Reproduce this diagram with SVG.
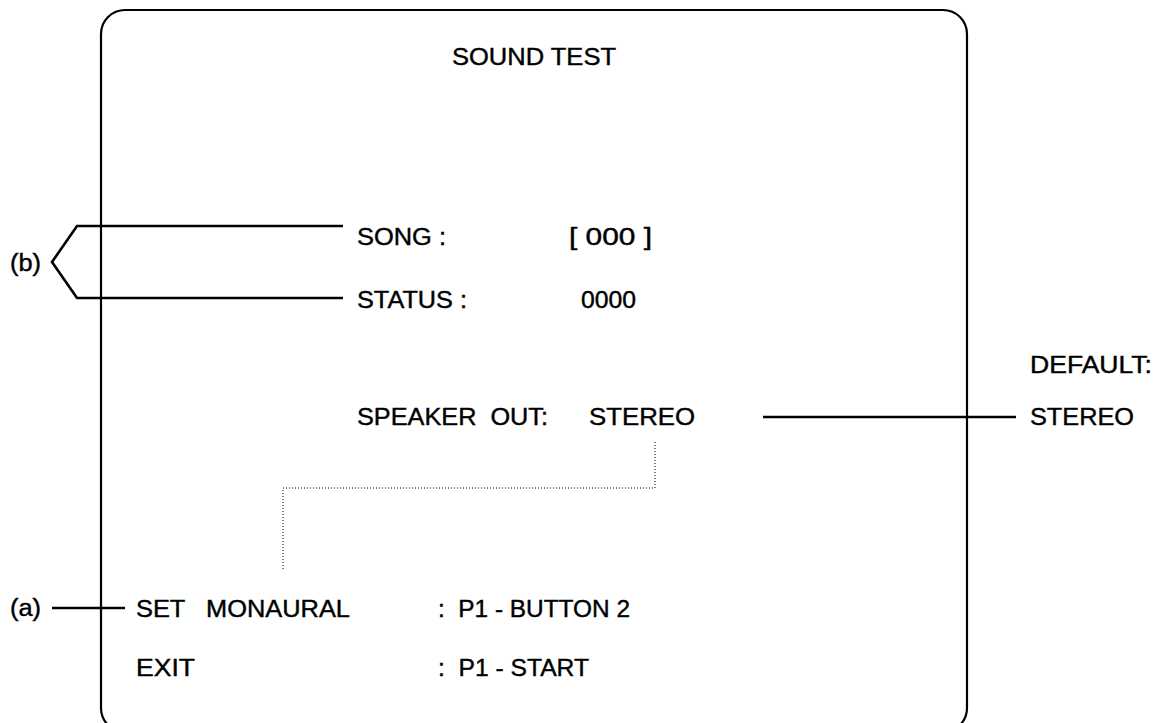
<svg xmlns="http://www.w3.org/2000/svg" width="1156" height="723" viewBox="0 0 1156 723">
<style>
text{font-family:"Liberation Sans",Arial,sans-serif;font-size:23px;fill:#000;stroke:#000;stroke-width:0.4;white-space:pre}
.ln{fill:none;stroke:#000;stroke-width:2.6}
.dot{fill:none;stroke:#000;stroke-width:1;stroke-dasharray:1 2}
</style>
<rect width="1156" height="723" fill="#fff"/>
<g id="screen">
<rect x="101" y="10" width="866" height="722" rx="24" ry="24" fill="none" stroke="#000" stroke-width="2.2"/>
<text x="452" y="65" textLength="164" lengthAdjust="spacingAndGlyphs">SOUND TEST</text>
</g>
<g id="song">
<text x="357" y="245" textLength="89" lengthAdjust="spacingAndGlyphs">SONG :</text>
<text x="569" y="245" textLength="83" lengthAdjust="spacingAndGlyphs">[ 000 ]</text>
</g>
<g id="status">
<text x="357" y="308" textLength="110" lengthAdjust="spacingAndGlyphs">STATUS :</text>
<text x="581" y="308" textLength="55" lengthAdjust="spacingAndGlyphs">0000</text>
</g>
<g id="speaker">
<text x="357" y="425" textLength="191" lengthAdjust="spacingAndGlyphs">SPEAKER  OUT:</text>
<text x="589" y="425" textLength="106" lengthAdjust="spacingAndGlyphs">STEREO</text>
</g>
<g id="default">
<text x="1030" y="373" textLength="122" lengthAdjust="spacingAndGlyphs">DEFAULT:</text>
<text x="1030" y="425" textLength="104" lengthAdjust="spacingAndGlyphs">STEREO</text>
</g>
<g id="label-b"><text x="10" y="271" textLength="31" lengthAdjust="spacingAndGlyphs">(b)</text></g>
<g id="label-a"><text x="10" y="616" textLength="31" lengthAdjust="spacingAndGlyphs">(a)</text></g>
<g id="monaural">
<text x="136" y="617" textLength="214" lengthAdjust="spacingAndGlyphs">SET   MONAURAL</text>
<text x="438" y="617" textLength="192" lengthAdjust="spacingAndGlyphs">:  P1 - BUTTON 2</text>
</g>
<g id="exit">
<text x="136" y="676" textLength="59" lengthAdjust="spacingAndGlyphs">EXIT</text>
<text x="438" y="676" textLength="151" lengthAdjust="spacingAndGlyphs">:  P1 - START</text>
</g>
<g id="connectors">
<polyline class="ln" points="343,226 77,226 52,262 77,298 343,298"/>
<line class="ln" x1="52" y1="608" x2="125" y2="608"/>
<line class="ln" x1="763" y1="417" x2="1016" y2="417"/>
<polyline class="dot" points="655,442 655,488 283,488 283,570"/>
</g>
</svg>
